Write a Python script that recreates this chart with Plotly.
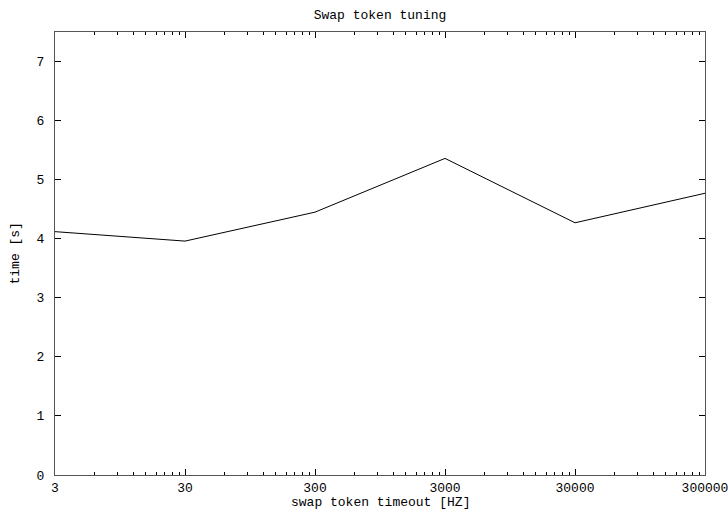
import plotly.graph_objects as go

# swap token timeout values [HZ] and measured times [s]
timeouts = [3, 30, 300, 3000, 30000, 300000]
times = [4.12, 3.96, 4.45, 5.36, 4.27, 4.77]

x_tick_vals = [3, 30, 300, 3000, 30000, 300000]
x_tick_text = ["3", "30", "300", "3000", "30000", "300000"]
y_tick_vals = [0, 1, 2, 3, 4, 5, 6, 7]

# minor ticks at 2..9 times each major tick, like gnuplot's log mtics
minor_vals = [base * m for base in x_tick_vals[:-1] for m in range(2, 10)]

FONT = "Liberation Mono"
FSIZE = 13
AXIS_COLOR = "#555555"

fig = go.Figure(
    go.Scatter(
        x=timeouts,
        y=times,
        mode="lines",
        line=dict(color="black", width=1),
        showlegend=False,
    )
)

fig.update_layout(
    width=728,
    height=511,
    margin=dict(l=55, r=23, t=32, b=36),
    paper_bgcolor="white",
    plot_bgcolor="white",
    font=dict(family=FONT, size=FSIZE, color="black"),
    title=dict(
        text="Swap token tuning",
        x=0.522,
        xanchor="center",
        y=1 - 14 / 511,
        yanchor="middle",
        font=dict(family=FONT, size=FSIZE, color="black"),
    ),
    annotations=[
        # axis titles placed explicitly in the narrow margins
        dict(
            text="swap token timeout [HZ]",
            xref="paper", yref="paper", x=0.5, y=0,
            xanchor="center", yanchor="middle", yshift=-27,
            showarrow=False, font=dict(family=FONT, size=FSIZE, color="black"),
        ),
        dict(
            text="time [s]",
            xref="paper", yref="paper", x=0, y=0.5,
            xanchor="center", yanchor="middle", xshift=-40, textangle=-90,
            showarrow=False, font=dict(family=FONT, size=FSIZE, color="black"),
        ),
    ],
)

fig.update_xaxes(
    type="log",
    range=[0.47712125, 5.47712125],
    tickvals=x_tick_vals,
    ticktext=x_tick_text,
    ticks="inside",
    ticklen=6,
    tickwidth=1,
    tickcolor="black",
    minor=dict(tickvals=minor_vals, ticks="inside", ticklen=3, tickcolor="black", showgrid=False),
    showgrid=False,
    zeroline=False,
    showline=True,
    linecolor=AXIS_COLOR,
    linewidth=1,
    mirror="allticks",
    automargin=False,
    ticklabeloverflow="allow",
    ticklabelstandoff=0,
)

fig.update_yaxes(
    range=[0, 7.5],
    tickvals=y_tick_vals,
    ticks="inside",
    ticklen=6,
    tickwidth=1,
    tickcolor="black",
    showgrid=False,
    zeroline=False,
    showline=True,
    linecolor=AXIS_COLOR,
    linewidth=1,
    mirror="allticks",
    automargin=False,
    ticklabelstandoff=7,
)

fig.write_html("out.html")
